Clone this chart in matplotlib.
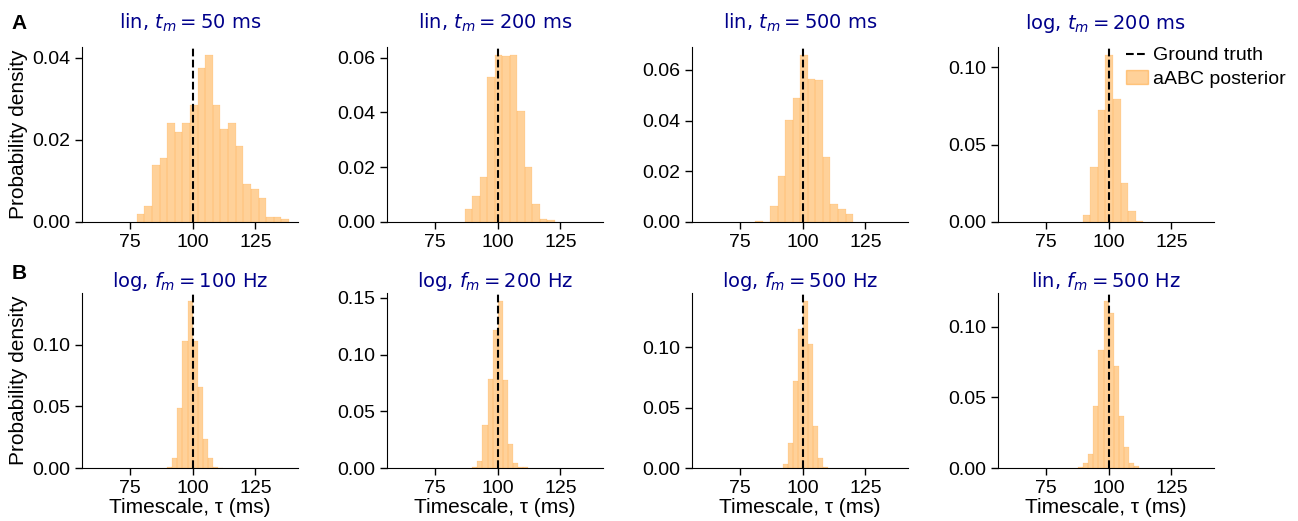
import numpy as np
import matplotlib
matplotlib.use("Agg")
import matplotlib.pyplot as plt
from matplotlib.ticker import FormatStrFormatter
from matplotlib.lines import Line2D
from matplotlib.patches import Patch

# posterior histograms: first bin edge, bin width, densities
titles = [r"lin, $t_m = 50$ ms", r"lin, $t_m = 200$ ms", r"lin, $t_m = 500$ ms", r"log, $t_m = 200$ ms",
          r"log, $f_m = 100$ Hz", r"log, $f_m = 200$ Hz", r"log, $f_m = 500$ Hz", r"lin, $f_m = 500$ Hz"]

start_lin50 = 77.8
width_lin50 = 3.03
dens_lin50 = [0.0020, 0.0040, 0.0139, 0.0155, 0.0240, 0.0220, 0.0240, 0.0285, 0.0374, 0.0406,
              0.0285, 0.0226, 0.0240, 0.0186, 0.0093, 0.0081, 0.0058, 0.0013, 0.0013, 0.0007]

start_lin200 = 87.0
width_lin200 = 2.98
dens_lin200 = [0.0048, 0.0093, 0.0163, 0.0528, 0.0609, 0.0606, 0.0609, 0.0407, 0.0202, 0.0066,
               0.0011, 0.0007]

start_lin500 = 81.1
width_lin500 = 3.0
dens_lin500 = [0.0004, 0.0, 0.0061, 0.0180, 0.0402, 0.0488, 0.0658, 0.0566, 0.0559, 0.0258,
               0.0069, 0.0052, 0.0033]

start_log200 = 89.7
width_log200 = 3.02
dens_log200 = [0.0048, 0.0353, 0.0727, 0.1078, 0.0792, 0.0253, 0.0071, 0.0006]

start_f100 = 90.0
width_f100 = 2.0
dens_f100 = [0.0005, 0.0084, 0.0489, 0.1032, 0.1351, 0.1027, 0.0659, 0.0238, 0.0084, 0.0011, 0.0003]

start_f200 = 90.0
width_f200 = 2.0
dens_f200 = [0.0006, 0.0065, 0.0376, 0.0788, 0.1220, 0.1470, 0.0779, 0.0215, 0.0047, 0.0006, 0.0006]

start_f500 = 92.0
width_f500 = 2.0
dens_f500 = [0.0033, 0.0211, 0.0719, 0.1153, 0.1383, 0.1025, 0.0350, 0.0083, 0.0006]

start_linf500 = 88.0
width_linf500 = 2.0
dens_linf500 = [0.0005, 0.0036, 0.0102, 0.0436, 0.0834, 0.1180, 0.1097, 0.0723, 0.0365, 0.0152,
                0.0038, 0.0017]

starts = [start_lin50, start_lin200, start_lin500, start_log200, start_f100, start_f200, start_f500, start_linf500]
widths = [width_lin50, width_lin200, width_lin500, width_log200, width_f100, width_f200, width_f500, width_linf500]
dens = [dens_lin50, dens_lin200, dens_lin500, dens_log200, dens_f100, dens_f200, dens_f500, dens_linf500]

yticks = [[0.0, 0.02, 0.04], [0.0, 0.02, 0.04, 0.06], [0.0, 0.02, 0.04, 0.06], [0.0, 0.05, 0.10],
          [0.0, 0.05, 0.10], [0.0, 0.05, 0.10, 0.15], [0.0, 0.05, 0.10], [0.0, 0.05, 0.10]]
xticks = [75, 100, 125]
tau_true = 100

plt.rcParams['font.family'] = ['Liberation Sans', 'DejaVu Sans']
plt.rcParams['font.size'] = 14
plt.rcParams['mathtext.fontset'] = 'dejavusans'

fig = plt.figure(figsize=(12.98, 5.21), dpi=100)
lefts = [0.0632, 0.2982, 0.5332, 0.7689]
bottoms = [0.574, 0.1017]
w = 0.1664
h = 0.336

for i in range(8):
    r, c = divmod(i, 4)
    ax = fig.add_axes([lefts[c], bottoms[r], w, h])
    edges = starts[i] + widths[i] * np.arange(len(dens[i]) + 1)
    ax.hist(edges[:-1], bins=edges, weights=dens[i], color='darkorange', alpha=0.4,
            ec='darkorange', lw=0.2)
    ax.axvline(tau_true, color='k', ls='--', lw=1.5)
    ax.set_xlim(56, 142)
    ax.set_xticks(xticks)
    ax.set_yticks(yticks[i])
    ax.yaxis.set_major_formatter(FormatStrFormatter('%.2f'))
    ax.spines['top'].set_visible(False)
    ax.spines['right'].set_visible(False)
    ax.tick_params(direction='out', length=5, width=1, labelsize=14)
    ax.set_title(titles[i], color='darkblue', fontsize=14, family='DejaVu Sans',
                 pad=13 if r == 0 else 4)
    if c == 0:
        ax.set_ylabel('Probability density', fontsize=15, labelpad=3)
    if r == 1:
        ax.set_xlabel('Timescale, τ (ms)', fontsize=15, labelpad=1)
    if i == 3:
        handles = [Line2D([0], [0], color='k', ls='--', lw=1.5),
                   Patch(color='darkorange', alpha=0.4)]
        ax.legend(handles, ['Ground truth', 'aABC posterior'], frameon=False, fontsize=14,
                  loc='upper right', bbox_to_anchor=(1.37, 1.045), handlelength=1.1,
                  handletextpad=0.3, labelspacing=0.3, borderaxespad=0)

fig.text(0.009, 0.955, 'A', fontsize=15, fontweight='bold', va='center')
fig.text(0.009, 0.476, 'B', fontsize=15, fontweight='bold', va='center')

fig.savefig('out.png', dpi=100)
